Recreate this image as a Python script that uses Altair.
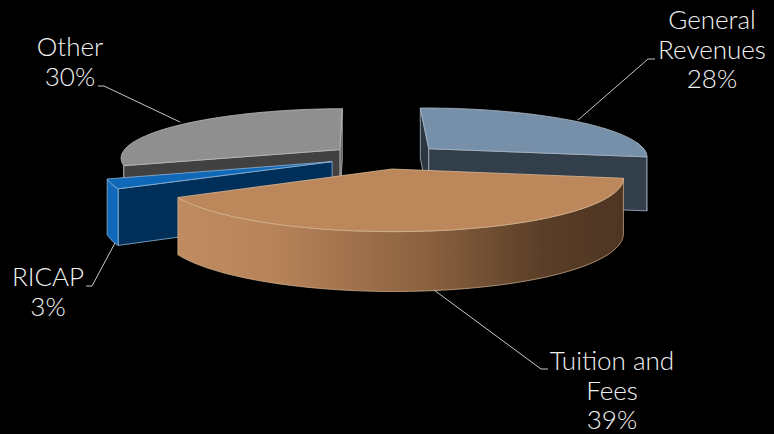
import math
import altair as alt
import pandas as pd

# Revenue shares, in percent, clockwise from the back of the pie
categories = ["General Revenues", "Tuition and Fees", "RICAP", "Other"]
shares = [28, 39, 3, 30]

# Label text, one list entry per drawn line
label_lines = [["General", "Revenues"], ["Tuition and", "Fees"], ["RICAP"], ["Other"]]
label_x = [712, 612, 48, 70]
label_top = [21, 362, 278, 48]
line_step = 29.6

# Leader lines from each slice to its label
leaders = {
    "General Revenues": ([578, 648, 655], [120, 59, 59]),
    "Tuition and Fees": ([434, 541, 548], [290, 369, 369]),
    "RICAP": ([115, 92, 86], [243, 286, 286]),
    "Other": ([180, 104, 98], [122, 86, 86]),
}

# Colours of each slice: top face, walls, edge line
top_colors = ["#7790A9", "#BC875B", "#0F69B8", "#8F8F8F"]
wall_colors = ["#323E49", None, "#002F5A", "#414141"]
end_colors = ["#2C3640", None, None, "#555555"]
rim_colors = ["#323E49", None, "#0F69B8", "#555555"]
edge_colors = ["#A9B8C6", "#D9B893", "#8FB4D6", "#BDBDBD"]

# Sideways correction of each slice on the page
slice_shift = [5, -1, 0, 1]

# Camera used to tilt the pie
START_ANGLE = 91.0
EXPLODE = 0.25
CX, CY = 383.0, 156.5
RX, RY = 220.0, 49.0
PERSPECTIVE = 0.15
DEPTH = 54.0


def project(angle, mid, radius=1.0, drop=False, shift=0):
    """Place a point of an exploded slice on the page."""
    wx = radius * math.cos(math.radians(angle)) + EXPLODE * math.cos(math.radians(mid))
    wy = radius * math.sin(math.radians(angle)) + EXPLODE * math.sin(math.radians(mid))
    s = 1.0 / (1.0 + PERSPECTIVE * wy)
    px = CX + shift + RX * wx * s
    py = CY - RY * wy * s
    if drop:
        py += DEPTH * math.sqrt(s)
    return px, py


def arc(a0, a1, mid, drop=False, shift=0):
    n = max(2, int(abs(a1 - a0) / 1.5))
    return [project(a0 + (a1 - a0) * i / n, mid, drop=drop, shift=shift) for i in range(n + 1)]


def face(points, fill, stroke, width=0.8):
    pts = list(points) + [points[0]]
    df = pd.DataFrame(pts, columns=["x", "y"])
    df["i"] = range(len(df))
    return (
        alt.Chart(df)
        .mark_line(filled=True, fill=fill, stroke=stroke, strokeWidth=width, strokeJoin="round")
        .encode(x=X, y=Y, order="i:Q")
    )


X = alt.X("x:Q", scale=alt.Scale(domain=[0, 774]), axis=None)
Y = alt.Y("y:Q", scale=alt.Scale(domain=[434, 0]), axis=None)

# Angular extent of every slice
spans = {}
angle = START_ANGLE
for name, share in zip(categories, shares):
    spans[name] = (angle, angle - share * 3.6)
    angle -= share * 3.6

layers = []
tuition_gradient = alt.Gradient(
    gradient="linear",
    x1=0, x2=1, y1=0, y2=0,
    stops=[
        alt.GradientStop(color="#C08B5F", offset=0),
        alt.GradientStop(color="#B78359", offset=0.22),
        alt.GradientStop(color="#8C6240", offset=0.55),
        alt.GradientStop(color="#5A3E27", offset=0.82),
        alt.GradientStop(color="#4E3522", offset=1),
    ],
)

# Back slices first, then the small wedge, then the front slice
for idx in [3, 0, 2, 1]:
    name = categories[idx]
    a0, a1 = spans[name]
    mid = (a0 + a1) / 2
    dx = slice_shift[idx]
    apex = project(0, mid, radius=0, shift=dx)
    apex_low = project(0, mid, radius=0, drop=True, shift=dx)
    p0, p0_low = project(a0, mid, shift=dx), project(a0, mid, drop=True, shift=dx)
    p1, p1_low = project(a1, mid, shift=dx), project(a1, mid, drop=True, shift=dx)
    edge = edge_colors[idx]

    if name == "General Revenues":
        layers.append(face(arc(a1 + 18, a1, mid, shift=dx) + arc(a1, a1 + 18, mid, drop=True, shift=dx), rim_colors[idx], edge))
        layers.append(face([apex, p0, p0_low, apex_low], end_colors[idx], edge))
        layers.append(face([apex, p1, p1_low, apex_low], wall_colors[idx], edge))
    elif name == "Other":
        layers.append(face(arc(a0, a0 + 22, mid, shift=dx) + arc(a0 + 22, a0, mid, drop=True, shift=dx), rim_colors[idx], edge))
        layers.append(face([apex, p1, p1_low, apex_low], end_colors[idx], edge))
        layers.append(face([apex, p0, p0_low, apex_low], wall_colors[idx], edge))
    elif name == "RICAP":
        layers.append(face([apex, p0, p0_low, apex_low], wall_colors[idx], edge))
        layers.append(face(arc(a0, a1, mid) + arc(a1, a0, mid, drop=True), rim_colors[idx], edge))
    else:
        layers.append(
            face(arc(a0, a1, mid, shift=dx) + arc(a1, a0, mid, drop=True, shift=dx), tuition_gradient, edge, 0.7)
        )
    layers.append(face([apex] + arc(a0, a1, mid, shift=dx), top_colors[idx], edge))

# Leader lines
for name in categories:
    xs, ys = leaders[name]
    df = pd.DataFrame({"x": xs, "y": ys, "i": range(len(xs))})
    layers.append(
        alt.Chart(df)
        .mark_line(color="#C8C8C8", strokeWidth=1)
        .encode(x=X, y=Y, order="i:Q")
    )

# Slice labels: name lines followed by the share
rows = []
for lines, lx, ltop, share in zip(label_lines, label_x, label_top, shares):
    for j, text in enumerate(lines + [f"{share}%"]):
        rows.append({"x": lx, "y": ltop + j * line_step, "text": text})
labels = (
    alt.Chart(pd.DataFrame(rows))
    .mark_text(font="Lato", fontSize=26, fontWeight=300, color="#F2F2F2", align="center", baseline="middle")
    .encode(x=X, y=Y, text="text:N")
)
layers.append(labels)

chart = (
    alt.layer(*layers)
    .properties(width=774, height=434, background="#000000", padding=0, autosize=alt.AutoSizeParams(type="none"))
    .configure_view(stroke=None)
)

chart.save("out.html", embed_options={"renderer": "svg", "actions": False})
